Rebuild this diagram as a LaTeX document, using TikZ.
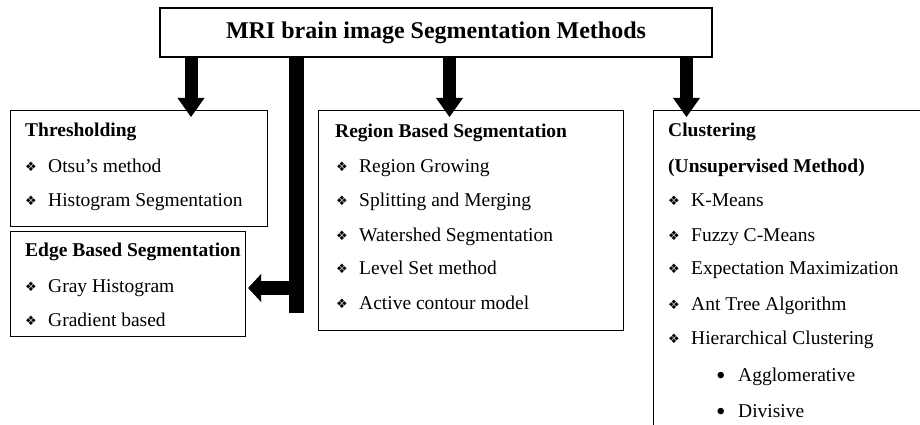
\documentclass[tikz,border=0pt]{standalone}
\usepackage{fontspec}
\setmainfont{Liberation Serif}
\newfontfamily\symfont{DejaVu Sans}
\usetikzlibrary{arrows.meta}
\newcommand\dia{\makebox[23pt][l]{\raisebox{0.5pt}{\symfont\fontsize{13}{13}\selectfont ❖}}}
\newcommand\rbul{\makebox[22pt][l]{\raisebox{-3pt}{\fontsize{27}{27}\selectfont •}}}
\begin{document}
\begin{tikzpicture}[x=1pt,y=-1pt,
  box/.style={draw, line width=1.1pt, inner sep=0pt, anchor=north west},
  txt/.style={anchor=base west, inner sep=0pt, font=\fontsize{19.5}{22}\selectfont},
  head/.style={anchor=base west, inner sep=0pt, font=\fontsize{19.5}{22}\selectfont\bfseries},
  dn/.style={line width=13pt, -{Triangle[width=27pt,length=19pt,line width=0pt]}, shorten >=-7pt},
  lf/.style={line width=14pt, -{Triangle[width=28pt,length=13pt,line width=0pt]}, shorten >=2pt},
  bar/.style={line width=15pt}]
\useasboundingbox (0,0) rectangle (920,425);

% title
\node[draw, line width=1.1pt, inner sep=0pt, minimum width=552pt, minimum height=49pt,
      font=\fontsize{24}{28}\selectfont\bfseries] (title) at (436,32.5) {MRI brain image Segmentation Methods};

% boxes
\node[box, minimum width=257pt, minimum height=116pt] (thr) at (10,110) {};
\node[box, minimum width=235pt, minimum height=105pt] (edge) at (10,231) {};
\node[box, minimum width=305pt, minimum height=220pt] (reg) at (318,110) {};
\node[box, minimum width=300pt, minimum height=330pt] (clu) at (653,110) {};

% Thresholding
\node[head] (thrh) at (25,136) {Thresholding};
\node[txt] (thr1) at (25,172) {\dia Otsu’s method};
\node[txt] (thr2) at (25,206) {\dia Histogram Segmentation};

% Edge
\node[head] (edgeh) at (25,256) {Edge Based Segmentation};
\node[txt] (edge1) at (25,292) {\dia Gray Histogram};
\node[txt] (edge2) at (25,326) {\dia Gradient based};

% Region
\node[head] (regh) at (335,137) {Region Based Segmentation};
\node[txt] (reg1) at (336,172) {\dia Region Growing};
\node[txt] (reg2) at (336,206) {\dia Splitting and Merging};
\node[txt] (reg3) at (336,241) {\dia Watershed Segmentation};
\node[txt] (reg4) at (336,274) {\dia Level Set method};
\node[txt] (reg5) at (336,309) {\dia Active contour model};

% Clustering
\node[head] (cluh) at (668,136) {Clustering};
\node[head] (cluh2) at (668,172) {(Unsupervised Method)};
\node[txt] (clu1) at (668,206) {\dia K-Means};
\node[txt] (clu2) at (668,241) {\dia Fuzzy C-Means};
\node[txt] (clu3) at (668,274) {\dia Expectation Maximization};
\node[txt] (clu4) at (668,310) {\dia Ant Tree Algorithm};
\node[txt] (clu5) at (668,344) {\dia Hierarchical Clustering};
\node[txt] (clu6) at (716,381) {\rbul Agglomerative};
\node[txt] (clu7) at (716,417) {\rbul Divisive};

% arrow x positions
\coordinate (a1) at (191,0);
\coordinate (a3) at (449.5,0);
\coordinate (a4) at (686.5,0);
\coordinate (bt) at (296,0);
\coordinate (bb) at (296,313);
\coordinate (hb) at (303,288);

\draw[dn] (a1 |- title.south) -- (a1 |- thr.north);
\draw[dn] (a3 |- title.south) -- (a3 |- reg.north);
\draw[dn] (a4 |- title.south) -- (a4 |- clu.north);
\draw[bar] (bt |- title.south) -- (bb);
\draw[lf] (hb) -- (edge.east |- hb);
\end{tikzpicture}
\end{document}
